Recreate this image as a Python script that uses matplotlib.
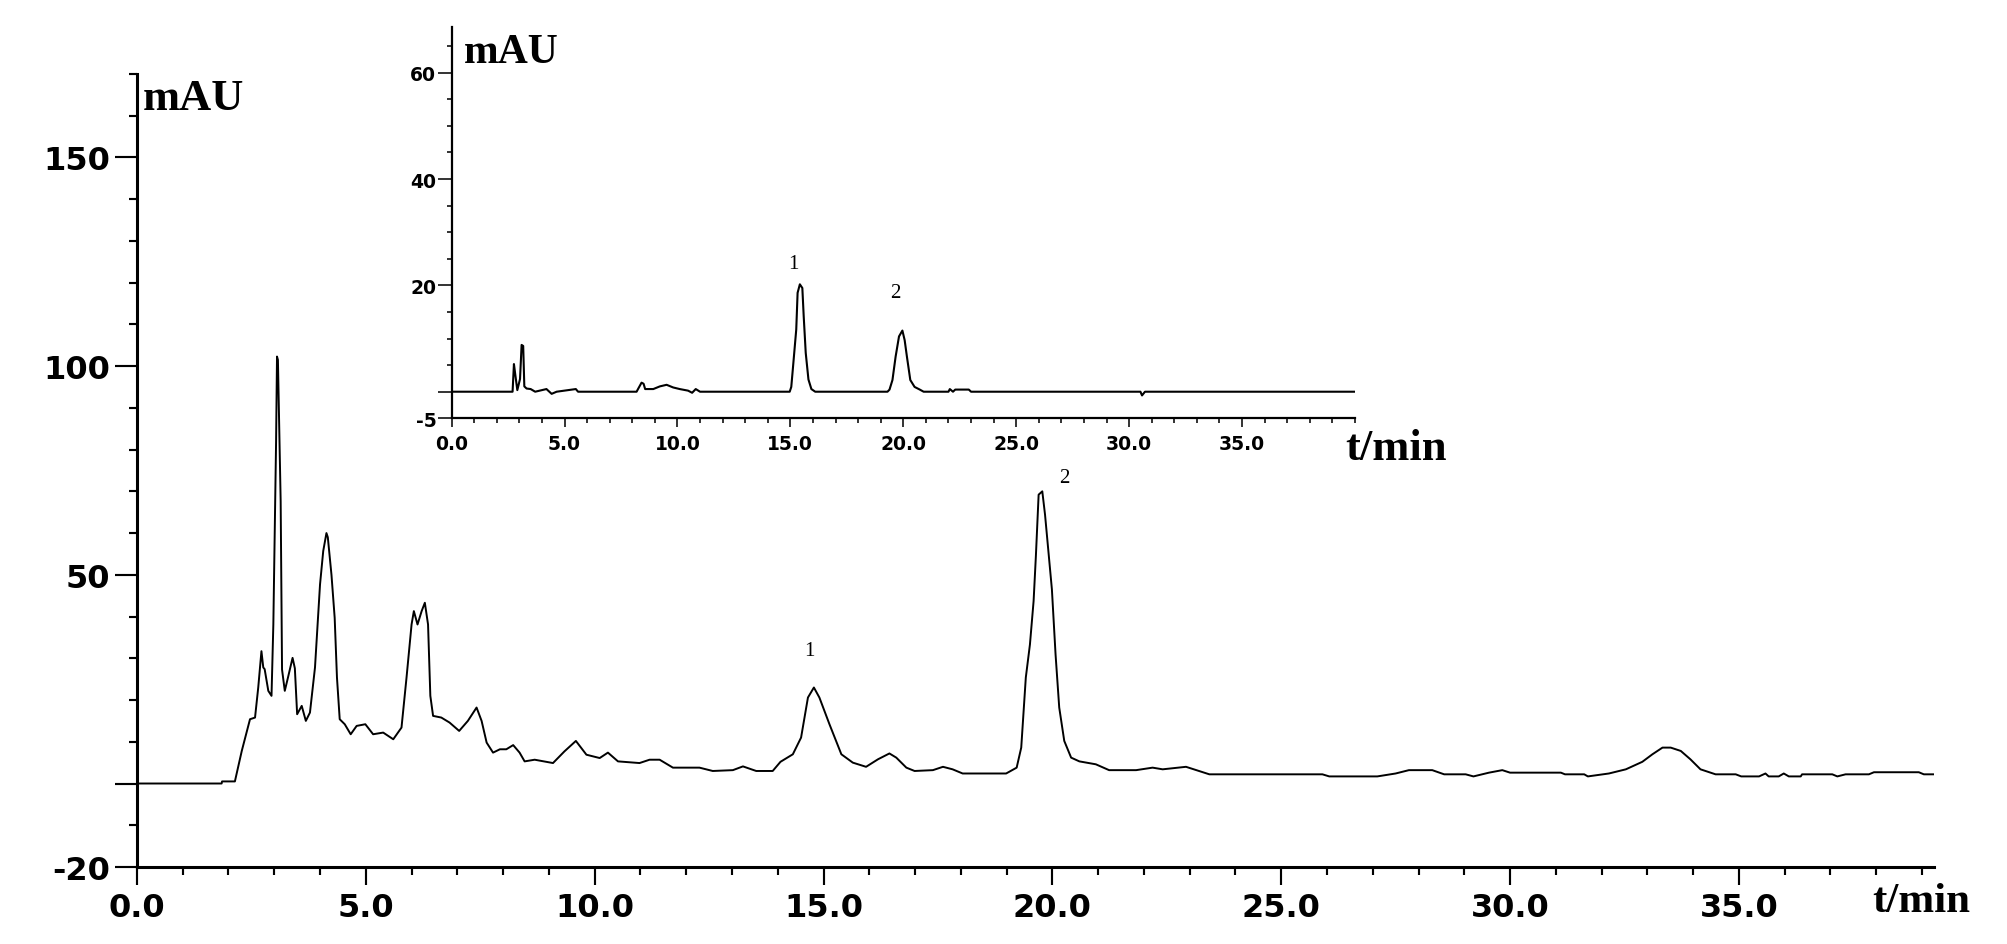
import matplotlib
matplotlib.use('Agg')
import matplotlib.pyplot as plt
from matplotlib.ticker import MultipleLocator, FixedLocator, FixedFormatter, FormatStrFormatter

# main chromatogram (time in min, absorbance in mAU)
main_t = [0.0, 1.85, 1.86, 2.14, 2.29, 2.47, 2.58, 2.65, 2.72, 2.76, 2.79, 2.87, 2.94,
          2.98, 3.04, 3.06, 3.08, 3.14, 3.17, 3.23, 3.30, 3.40, 3.45, 3.50, 3.60, 3.69,
          3.78, 3.89, 4.00, 4.07, 4.14, 4.17, 4.25, 4.32, 4.37, 4.43, 4.54, 4.67, 4.80,
          4.99, 5.16, 5.38, 5.60, 5.78, 5.89, 6.00, 6.05, 6.13, 6.22, 6.29, 6.36, 6.41,
          6.47, 6.65, 6.83, 7.04, 7.23, 7.42, 7.53, 7.64, 7.78, 7.93, 8.07, 8.22, 8.36,
          8.47, 8.69, 9.09, 9.34, 9.59, 9.82, 10.11, 10.29, 10.51, 10.98, 11.20, 11.42,
          11.71, 12.29, 12.58, 13.02, 13.24, 13.53, 13.89, 14.06, 14.33, 14.51, 14.66,
          14.79, 14.91, 15.13, 15.39, 15.64, 15.93, 16.19, 16.44, 16.59, 16.81, 16.99,
          17.39, 17.61, 17.82, 18.04, 18.99, 19.22, 19.32, 19.42, 19.51, 19.59, 19.64,
          19.70, 19.78, 19.84, 19.92, 19.99, 20.07, 20.15, 20.26, 20.41, 20.59, 20.95,
          21.24, 21.83, 22.19, 22.41, 22.92, 23.43, 25.90, 26.05, 27.10, 27.50, 27.79,
          28.30, 28.56, 29.03, 29.20, 29.54, 29.83, 30.00, 31.11, 31.20, 31.62, 31.70,
          32.16, 32.53, 32.89, 33.11, 33.33, 33.51, 33.73, 33.94, 34.16, 34.49, 34.93,
          35.05, 35.44, 35.58, 35.65, 35.87, 35.98, 36.09, 36.35, 36.38, 37.04, 37.15,
          37.33, 37.84, 37.95, 38.93, 39.04, 39.26]
main_v = [0.0, 0.0, 0.5, 0.5, 7.8, 15.4, 15.8, 23.0, 31.7, 27.8, 27.4, 22.2, 21.0,
          38.1, 82.0, 102.3, 101.5, 67.6, 27.3, 22.2, 25.4, 30.1, 27.6, 16.6, 18.6, 15.0,
          17.0, 27.8, 47.7, 55.7, 60.0, 59.0, 50.0, 39.7, 25.4, 15.4, 14.2, 11.8, 13.8,
          14.2, 11.8, 12.2, 10.6, 13.4, 25.4, 38.1, 41.3, 38.1, 41.3, 43.3, 38.1, 21.0,
          16.2, 15.8, 14.6, 12.6, 15.0, 18.2, 15.0, 9.8, 7.4, 8.2, 8.2, 9.2, 7.4,
          5.3, 5.7, 4.9, 7.7, 10.2, 6.9, 6.1, 7.4, 5.3, 4.9, 5.7, 5.7,
          3.8, 3.8, 3.0, 3.2, 4.1, 3.0, 3.0, 5.2, 7.0, 11.0, 20.6,
          23.0, 20.6, 14.2, 7.0, 5.0, 4.0, 5.8, 7.2, 6.2, 3.8, 3.0,
          3.2, 4.0, 3.4, 2.4, 2.4, 3.8, 8.6, 25.4, 33.3, 43.7, 54.5,
          69.2, 70.0, 64.4, 54.9, 46.5, 30.9, 18.2, 10.2, 6.2, 5.3, 4.6,
          3.2, 3.2, 3.8, 3.4, 4.0, 2.2, 2.2, 1.7, 1.7, 2.4, 3.2,
          3.2, 2.2, 2.2, 1.7, 2.6, 3.2, 2.6, 2.6, 2.2, 2.2, 1.7,
          2.4, 3.4, 5.2, 7.0, 8.6, 8.6, 7.8, 5.8, 3.4, 2.2, 2.2,
          1.7, 1.7, 2.4, 1.7, 1.7, 2.4, 1.7, 1.7, 2.2, 2.2, 1.7,
          2.2, 2.2, 2.7, 2.7, 2.2, 2.2]

# inset chromatogram (standard)
inset_t = [0.0, 2.70, 2.76, 2.82, 2.91, 3.03, 3.10, 3.17, 3.22, 3.32, 3.50, 3.70, 4.20,
           4.43, 4.65, 5.50, 5.60, 8.19, 8.41, 8.50, 8.57, 8.93, 9.22, 9.52, 9.81, 10.10,
           10.47, 10.65, 10.81, 11.00, 14.97, 15.04, 15.12, 15.26, 15.32, 15.42, 15.53,
           15.59, 15.68, 15.80, 15.93, 16.10, 19.30, 19.39, 19.52, 19.66, 19.81, 19.96,
           20.06, 20.16, 20.31, 20.50, 20.73, 20.90, 22.00, 22.06, 22.20, 22.30, 22.90,
           23.00, 30.50, 30.57, 30.70, 40.00]
inset_v = [0.0, 0.0, 5.2, 3.2, 0.3, 2.4, 8.8, 8.6, 1.0, 0.6, 0.5, 0.0, 0.5,
           -0.4, 0.0, 0.5, 0.0, 0.0, 1.7, 1.5, 0.5, 0.5, 1.0, 1.3, 0.8, 0.5,
           0.2, -0.2, 0.5, 0.0, 0.0, 0.9, 4.8, 11.7, 18.6, 20.2, 19.5,
           14.2, 7.3, 2.3, 0.5, 0.0, 0.0, 0.4, 2.2, 6.6, 10.4, 11.5,
           9.7, 6.6, 2.2, 0.9, 0.4, 0.0, 0.0, 0.5, 0.0, 0.4, 0.4,
           0.0, 0.0, -0.7, 0.0, 0.0]

main_yticks = [-20, 0, 50, 100, 150]
main_ylabels = ['-20', '', '50', '100', '150']
inset_yticks = [-5, 0, 20, 40, 60]
inset_ylabels = ['-5', '', '20', '40', '60']

# peak labels: (name, time, mAU)
main_peaks = [('1', 14.69, 31.8), ('2', 20.26, 73.2)]
inset_peaks = [('1', 15.12, 24.1), ('2', 19.66, 18.7)]

SERIF = 'Liberation Serif'
SANS = 'DejaVu Sans'

fig = plt.figure(figsize=(20.08, 9.45), dpi=100)
fig.patch.set_facecolor('white')


def style_axes(ax, lw, maj_x, maj_y, minor, fs, padx, pady):
    for s in ['top', 'right']:
        ax.spines[s].set_visible(False)
    for s in ['left', 'bottom']:
        ax.spines[s].set_linewidth(lw)
    ax.tick_params(axis='x', which='major', direction='out', length=maj_x, width=lw * 0.7,
                   labelsize=fs, pad=padx)
    ax.tick_params(axis='y', which='major', direction='out', length=maj_y, width=lw * 0.7,
                   labelsize=fs, pad=pady)
    ax.tick_params(which='minor', direction='out', length=minor, width=lw * 0.7)
    for lab in ax.get_xticklabels() + ax.get_yticklabels():
        lab.set_fontfamily(SANS)
        lab.set_fontweight('bold')


# ---- main chromatogram ----
ax = fig.add_axes([0.0682, 0.0815, 0.8949, 0.8392])
ax.plot(main_t, main_v, color='black', lw=1.4)
ax.set_xlim(0, 39.26)
ax.set_ylim(-20, 170)
ax.xaxis.set_major_locator(MultipleLocator(5))
ax.xaxis.set_major_formatter(FormatStrFormatter('%.1f'))
ax.xaxis.set_minor_locator(MultipleLocator(1))
ax.yaxis.set_major_locator(FixedLocator(main_yticks))
ax.yaxis.set_major_formatter(FixedFormatter(main_ylabels))
ax.yaxis.set_minor_locator(MultipleLocator(10))
style_axes(ax, 2.2, 13, 16, 6, 23, 5, 3)
for name, t, v in main_peaks:
    ax.text(t, v, name, fontsize=15, family=SERIF, ha='center', va='center')

fig.text(0.0712, 0.8836, 'mAU', fontsize=32, family=SERIF, fontweight='bold',
         ha='left', va='baseline')
fig.text(0.9567, 0.0349, 't/min', fontsize=31, family=SERIF, fontweight='bold',
         ha='center', va='baseline')

# ---- inset: standard ----
axi = fig.add_axes([0.2249, 0.5563, 0.4499, 0.4141])
axi.set_facecolor('white')
axi.plot(inset_t, inset_v, color='black', lw=1.5)
axi.set_xlim(0, 40)
axi.set_ylim(-5, 68.6)
axi.xaxis.set_major_locator(FixedLocator([0, 5, 10, 15, 20, 25, 30, 35]))
axi.xaxis.set_major_formatter(FormatStrFormatter('%.1f'))
axi.xaxis.set_minor_locator(MultipleLocator(1))
axi.yaxis.set_major_locator(FixedLocator(inset_yticks))
axi.yaxis.set_major_formatter(FixedFormatter(inset_ylabels))
axi.yaxis.set_minor_locator(MultipleLocator(5))
style_axes(axi, 1.6, 6.5, 10, 3.5, 13.5, 5, 1)
for name, t, v in inset_peaks:
    axi.text(t, v, name, fontsize=15, family=SERIF, ha='center', va='center')

fig.text(0.2311, 0.9333, 'mAU', fontsize=30, family=SERIF, fontweight='bold',
         ha='left', va='baseline')
fig.text(0.6952, 0.5132, 't/min', fontsize=32, family=SERIF, fontweight='bold',
         ha='center', va='baseline')

fig.savefig('out.png', dpi=100, facecolor='white')
